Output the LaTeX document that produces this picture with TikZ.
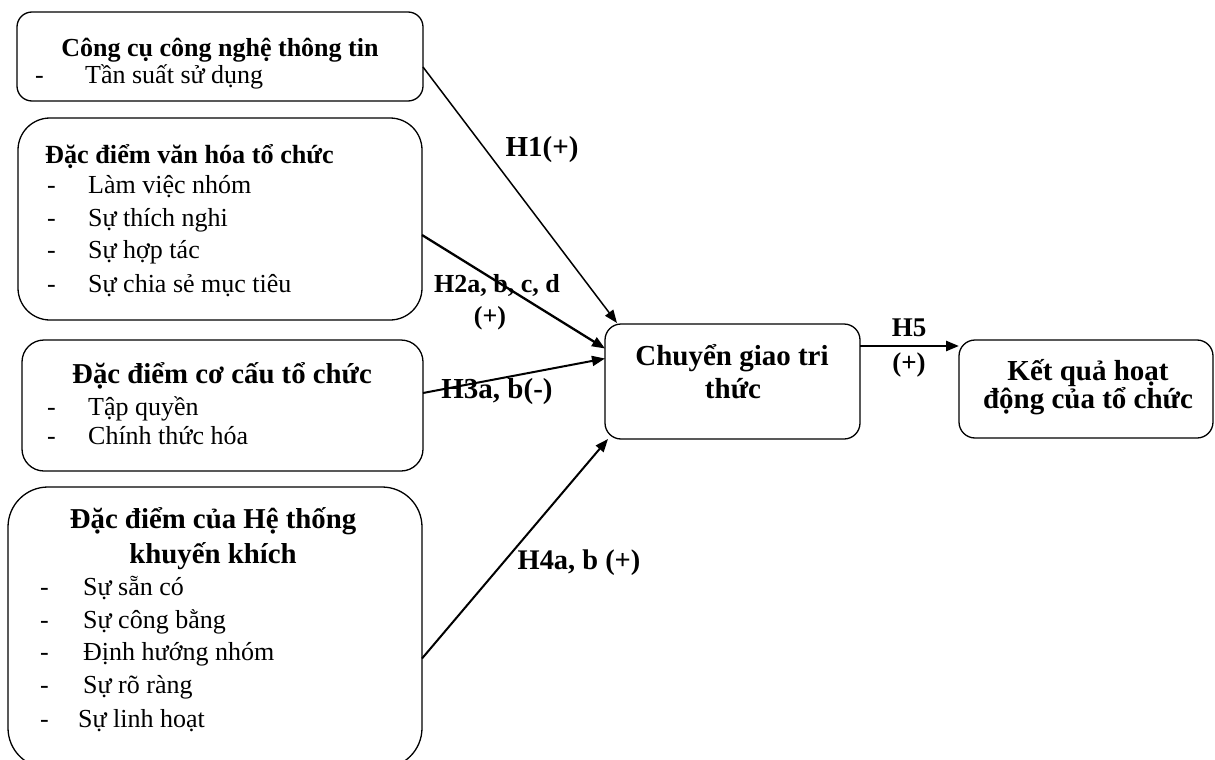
\documentclass[tikz,border=0pt]{standalone}
\usepackage{fontspec}
\setmainfont{Liberation Serif}
\usetikzlibrary{arrows.meta}
\newcommand{\dashitem}[2]{\makebox[#1][l]{-}#2}
\begin{document}
\begin{tikzpicture}[x=1pt,y=-1pt,
  box/.style={draw, line width=1.3pt, rounded corners=#1, inner sep=0pt, outer sep=0pt},
  hdsmall/.style={font=\fontsize{26}{30}\selectfont\bfseries, inner sep=0pt, anchor=base},
  hd/.style={font=\fontsize{28.8}{33}\selectfont\bfseries, inner sep=0pt, anchor=base},
  hdl/.style={font=\fontsize{26.2}{32}\selectfont\bfseries, inner sep=0pt, anchor=base west},
  big/.style={font=\fontsize{29}{33}\selectfont\bfseries, inner sep=0pt, anchor=base},
  itm/.style={font=\fontsize{26}{32}\selectfont, inner sep=0pt, anchor=base west},
  lbl/.style={font=\fontsize{#1}{32}\selectfont\bfseries, inner sep=0pt, anchor=base},
  lbl/.default=29,
  arr/.style={-{Triangle[length=13pt,width=10pt]}, line width=#1},
  arr/.default=1.5pt]
\useasboundingbox (0,0) rectangle (1215,760);

% boxes
\node[box=15pt, minimum width=406pt, minimum height=89pt] (b1) at (220,56.5) {};
\node[box=32pt, minimum width=404pt, minimum height=202pt] (b2) at (220,219) {};
\node[box=22pt, minimum width=401pt, minimum height=131pt] (b3) at (222.5,405.5) {};
\node[box=40pt, minimum width=414pt, minimum height=281pt] (b4) at (215,627.5) {};
\node[box=16pt, minimum width=255pt, minimum height=115pt] (c) at (732.5,381.5) {};
\node[box=16pt, minimum width=254pt, minimum height=98pt] (r) at (1086,389) {};

% box 1 text
\node[hdsmall] (b1h) at (220,57) {Công cụ công nghệ thông tin};
\node[itm] (b1a) at (35,83) {\dashitem{50pt}{Tần suất sử dụng}};

% box 2 text
\node[hdl] (b2h) at (45,163) {Đặc điểm văn hóa tổ chức};
\node[itm] (b2a) at (47,193) {\dashitem{41pt}{Làm việc nhóm}};
\node[itm] (b2b) at (47,226) {\dashitem{41pt}{Sự thích nghi}};
\node[itm] (b2c) at (47,258) {\dashitem{41pt}{Sự hợp tác}};
\node[itm] (b2d) at (47,292) {\dashitem{41pt}{Sự chia sẻ mục tiêu}};

% box 3 text
\node[hd] (b3h) at (222,383) {Đặc điểm cơ cấu tổ chức};
\node[itm] (b3a) at (47,415) {\dashitem{41pt}{Tập quyền}};
\node[itm] (b3b) at (47,444) {\dashitem{41pt}{Chính thức hóa}};

% box 4 text
\node[hd] (b4h1) at (213,528) {Đặc điểm của Hệ thống};
\node[hd] (b4h2) at (213,563) {khuyến khích};
\node[itm] (b4a) at (40,595) {\dashitem{43pt}{Sự sẵn có}};
\node[itm] (b4b) at (40,628) {\dashitem{43pt}{Sự công bằng}};
\node[itm] (b4c) at (40,660) {\dashitem{43pt}{Định hướng nhóm}};
\node[itm] (b4d) at (40,693) {\dashitem{43pt}{Sự rõ ràng}};
\node[itm] (b4e) at (40,727) {\dashitem{38pt}{Sự linh hoạt}};

% centre and right box text
\node[big] (ct1) at (732,365) {Chuyển giao tri};
\node[big] (ct2) at (733,398) {thức};
\node[big] (rt1) at (1088,380) {Kết quả hoạt};
\node[big] (rt2) at (1088,408) {động của tổ chức};

% connectors
\draw[arr=1.5pt] ([yshift=-10.5pt]b1.east) -- ([xshift=12pt,yshift=1pt]c.north west);
\draw[arr=2.3pt] ([yshift=-16pt]b2.east) -- ([yshift=33pt]c.west);
\draw[arr=2pt] ([yshift=12.5pt]b3.east) -- ([yshift=23pt]c.west);
\draw[arr=2pt] ([yshift=-31pt]b4.east) -- ([xshift=3pt]c.south west);
\draw[arr=2.5pt] ([yshift=35.5pt]c.east) -- ([yshift=35.5pt]c.east -| r.west);

% labels
\node[lbl] (l1) at (542,156) {H1(+)};
\node[lbl=26] (l2) at (497,292) {H2a, b, c, d};
\node[lbl=26] (l2b) at (490,324) {(+)};
\node[lbl] (l3) at (497,398) {H3a, b(-)};
\node[lbl=28.4] (l4) at (579,569) {H4a, b (+)};
\node[lbl=27] (l5) at (909,336) {H5};
\node[lbl=27] (l5b) at (909,371) {(+)};
\end{tikzpicture}
\end{document}
